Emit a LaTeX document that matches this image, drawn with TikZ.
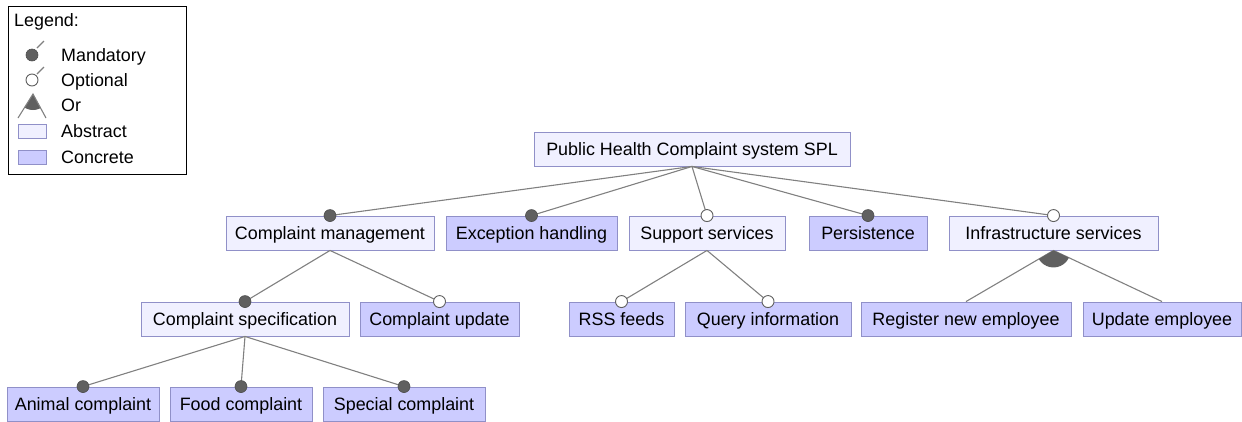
\documentclass[tikz,border=0pt]{standalone}
\usepackage{fontspec}
\setmainfont{Liberation Sans}
\definecolor{boxline}{HTML}{9090C8}
\definecolor{absfill}{HTML}{F0F0FF}
\definecolor{confill}{HTML}{CCCCFF}
\definecolor{edge}{HTML}{808080}
\definecolor{dot}{HTML}{606060}
\begin{document}
\begin{tikzpicture}[x=1pt,y=1pt,
  feat/.style={draw=boxline,line width=0.9pt,minimum height=34pt,inner sep=0pt,text height=15pt,text depth=2pt,font=\fontsize{17.9}{20}\selectfont,anchor=center},
  abs/.style={feat,fill=absfill},
  con/.style={feat,fill=confill},
  edg/.style={draw=edge,line width=1.1pt},
  mand/.style={circle,fill=dot,draw=dot!80!black,line width=0.6pt,minimum size=12pt,inner sep=0pt},
  opt/.style={circle,fill=white,draw=dot,line width=0.9pt,minimum size=12pt,inner sep=0pt},
  lgtext/.style={anchor=west,inner sep=0pt,text height=15pt,text depth=2pt,font=\fontsize{17.9}{20}\selectfont},
  swatch/.style={draw=boxline,line width=0.9pt,minimum width=28pt,minimum height=14pt,inner sep=0pt}
]
\useasboundingbox (0,0) rectangle (1242,-421);
% legend
\node[draw=black,line width=1pt,minimum width=178pt,minimum height=168pt,inner sep=0pt] (legend) at (97,-90) {};
\node[lgtext] (lgt) at (14,-20) {Legend:};
\coordinate (lm1) at (37,-48); \coordinate (lm2) at (44,-41);
\draw[edg] (lm1) -- (lm2);
\node[mand] (lmand) at (32,-55) {};
\node[lgtext] (lmandt) at (61,-55) {Mandatory};
\coordinate (lo1) at (37,-74); \coordinate (lo2) at (44,-67);
\draw[edg] (lo1) -- (lo2);
\node[opt] (lopt) at (32,-80) {};
\node[lgtext] (loptt) at (61,-80) {Optional};
\coordinate (lor) at (33,-94); \coordinate (lorl) at (18,-118); \coordinate (lorr) at (46,-118);
\begin{scope}\clip (lor) circle (16); \fill[dot] (lor) -- (lorl) -- (lorr) -- cycle; \end{scope}
\draw[edg] (lorl) -- (lor) -- (lorr);
\node[lgtext] (lort) at (61,-105) {Or};
\node[swatch,fill=absfill] (labs) at (32,-131) {};
\node[lgtext] (labst) at (61,-131) {Abstract};
\node[swatch,fill=confill] (lcon) at (32,-157) {};
\node[lgtext] (lcont) at (61,-157) {Concrete};
% features
\node[abs,minimum width=316pt] (root) at (692,-149) {Public Health Complaint system SPL};
\node[abs,minimum width=208pt] (cm) at (330,-233) {Complaint management};
\node[con,minimum width=171pt] (eh) at (531.5,-233) {Exception handling};
\node[abs,minimum width=156pt] (ss) at (707,-233) {Support services};
\node[con,minimum width=118pt] (pe) at (868,-233) {Persistence};
\node[abs,minimum width=209pt] (is) at (1053.5,-233) {Infrastructure services};
\node[abs,minimum width=208pt] (cs) at (245,-319) {Complaint specification};
\node[con,minimum width=159pt] (cu) at (439.5,-319) {Complaint update};
\node[con,minimum width=105pt] (rss) at (621.5,-319) {RSS feeds};
\node[con,minimum width=166pt] (qi) at (768,-319) {Query information};
\node[con,minimum width=210pt] (rne) at (966,-319) {Register new employee};
\node[con,minimum width=158pt] (ue) at (1162,-319) {Update employee};
\node[con,minimum width=152pt] (ac) at (83,-404) {Animal complaint};
\node[con,minimum width=142pt] (fc) at (241,-404) {Food complaint};
\node[con,minimum width=162pt] (sc) at (404,-404) {Special complaint};
% edges
\foreach \c in {cm,eh,ss,pe,is} \draw[edg] (root.south) -- (\c.north);
\foreach \c in {cs,cu} \draw[edg] (cm.south) -- (\c.north);
\foreach \c in {ac,fc,sc} \draw[edg] (cs.south) -- (\c.north);
\foreach \c in {rss,qi} \draw[edg] (ss.south) -- (\c.north);
\foreach \c in {rne,ue} \draw[edg] (is.south) -- (\c.north);
\begin{scope}\clip (is.south) circle (17); \fill[dot] (is.south) -- (rne.north) -- (ue.north) -- cycle; \end{scope}
% markers
\foreach \c in {cm,eh,pe,cs,ac,fc,sc} \node[mand] (m-\c) at (\c.north) {};
\foreach \c in {ss,is,cu,rss,qi} \node[opt] (o-\c) at (\c.north) {};
\end{tikzpicture}
\end{document}
